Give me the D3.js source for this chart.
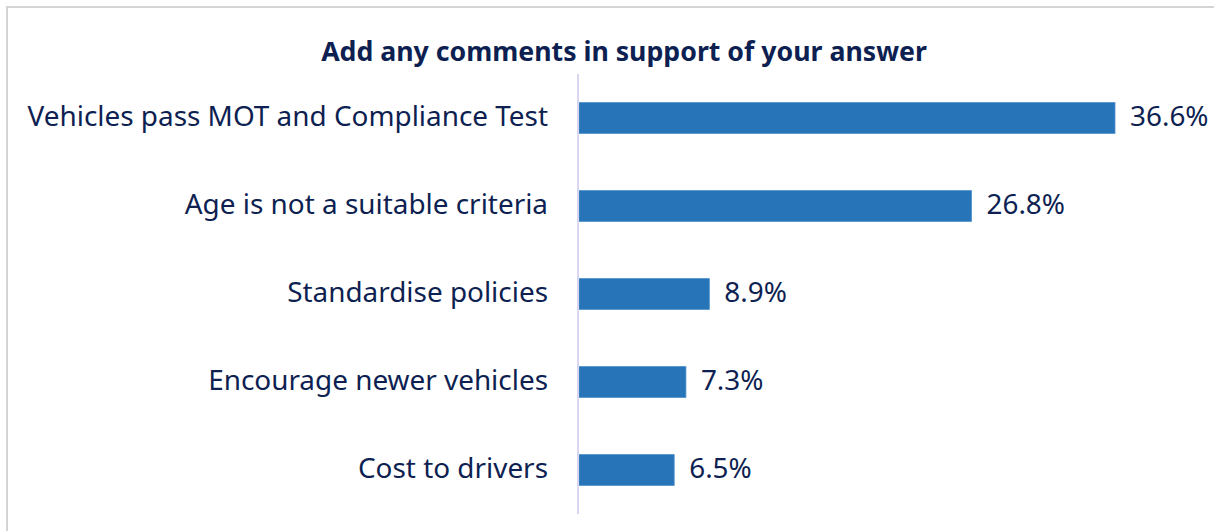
<!DOCTYPE html>
<html>
<head>
<meta charset="utf-8">
<script src="https://cdn.jsdelivr.net/npm/d3@7"></script>
<style>
  body { margin: 0; background: #fff; }
</style>
</head>
<body>
<div id="chart"></div>
<script>
const categories = [
  "Vehicles pass MOT and Compliance Test",
  "Age is not a suitable criteria",
  "Standardise policies",
  "Encourage newer vehicles",
  "Cost to drivers"
];
const values = [36.6, 26.8, 8.9, 7.3, 6.5];
const chartTitle = "Add any comments in support of your answer";

const width = 1214, height = 531;
const margin = { top: 74, right: 99, bottom: 17, left: 579 };

const svg = d3.select("#chart").append("svg")
  .attr("width", width)
  .attr("height", height)
  .style("font-family", "'Noto Sans', sans-serif");

// outer frame (only top and left edges visible)
svg.append("path")
  .attr("d", `M7,${height} V7 H${width}`)
  .attr("fill", "none")
  .attr("stroke", "#d4d4d4")
  .attr("stroke-width", 2);

svg.append("text")
  .attr("x", 624)
  .attr("y", 61)
  .attr("text-anchor", "middle")
  .attr("font-size", 26.7)
  .attr("font-weight", "700")
  .attr("fill", "#0e1f52")
  .text(chartTitle);

const x = d3.scaleLinear()
  .domain([0, 36.6])
  .range([margin.left, 1115]);

const y = d3.scaleBand()
  .domain(categories)
  .range([margin.top, height - margin.bottom])
  .paddingInner(0.65)
  .paddingOuter(0.325);

svg.selectAll(".bar")
  .data(values)
  .join("rect")
    .attr("class", "bar")
    .attr("x", x(0))
    .attr("y", (d, i) => y(categories[i]))
    .attr("width", d => x(d) - x(0))
    .attr("height", y.bandwidth())
    .attr("fill", "#2874b9")
    .attr("stroke", "#4d8fcb")
    .attr("stroke-width", 0.8);

// category axis line
svg.append("line")
  .attr("x1", x(0) - 1).attr("x2", x(0) - 1)
  .attr("y1", margin.top).attr("y2", height - margin.bottom)
  .attr("stroke", "#d9d6f0")
  .attr("stroke-width", 2);

svg.selectAll(".cat")
  .data(categories)
  .join("text")
    .attr("class", "cat")
    .attr("x", 548)
    .attr("y", d => y(d) + y.bandwidth() / 2)
    .attr("dy", "0.3em")
    .attr("text-anchor", "end")
    .attr("font-size", 27.9)
    .attr("fill", "#0e1f52")
    .text(d => d);

svg.selectAll(".val")
  .data(values)
  .join("text")
    .attr("class", "val")
    .attr("x", d => x(d) + 15)
    .attr("y", (d, i) => y(categories[i]) + y.bandwidth() / 2)
    .attr("dy", "0.3em")
    .attr("font-size", 27.9)
    .attr("fill", "#0e1f52")
    .text(d => d.toFixed(1) + "%");
</script>
</body>
</html>
